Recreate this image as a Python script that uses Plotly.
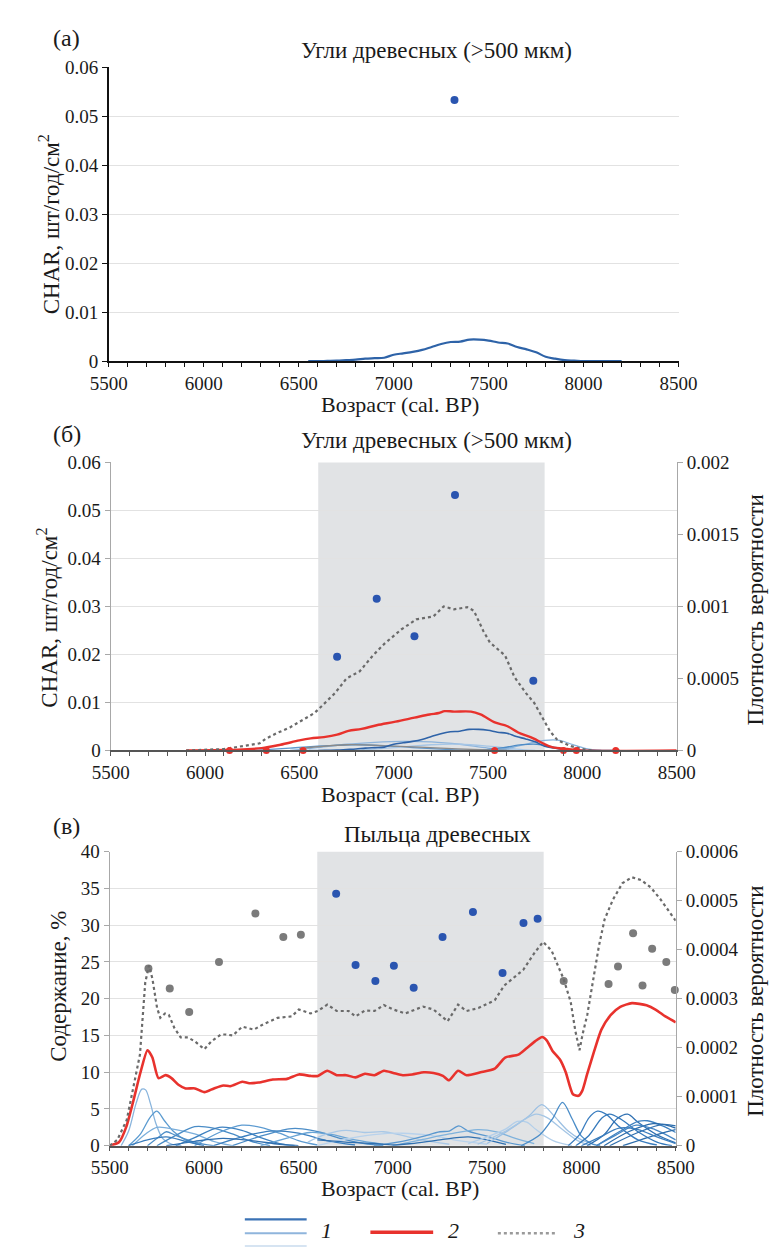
import plotly.graph_objects as go

FIG_W, FIG_H = 779, 1250

# ---------------- tick labels ----------------
AGE_TICKS = [5500, 6000, 6500, 7000, 7500, 8000, 8500]
AGE_TICK_TEXT = ["5500", "6000", "6500", "7000", "7500", "8000", "8500"]
CHAR_TICKS = [0, 0.01, 0.02, 0.03, 0.04, 0.05, 0.06]
CHAR_TICK_TEXT = ["0", "0.01", "0.02", "0.03", "0.04", "0.05", "0.06"]
PROB_B_TICKS = [0, 0.0005, 0.001, 0.0015, 0.002]
PROB_B_TICK_TEXT = ["0", "0.0005", "0.001", "0.0015", "0.002"]
PCT_TICKS = [0, 5, 10, 15, 20, 25, 30, 35, 40]
PCT_TICK_TEXT = ["0", "5", "10", "15", "20", "25", "30", "35", "40"]
PROB_C_TICKS = [0, 0.0001, 0.0002, 0.0003, 0.0004, 0.0005, 0.0006]
PROB_C_TICK_TEXT = ["0", "0.0001", "0.0002", "0.0003", "0.0004", "0.0005", "0.0006"]

# ---------------- panel (a) ----------------
A_CURVE_AGE = [6550, 6600, 6650, 6700, 6750, 6800, 6850, 6900, 6950, 7000, 7050, 7100,
               7150, 7200, 7250, 7300, 7350, 7400, 7450, 7500, 7550, 7600, 7650, 7700,
               7750, 7800, 7850, 7900, 7950, 8000, 8100, 8200]
A_CURVE_CHAR = [0, 0, 0.00005, 0.0001, 0.0002, 0.0003, 0.0005, 0.0006, 0.0007, 0.0013,
                0.0016, 0.0019, 0.0023, 0.0029, 0.0035, 0.0039, 0.0040, 0.0044, 0.0044,
                0.0042, 0.0038, 0.0036, 0.0029, 0.0024, 0.0018, 0.0009, 0.0005, 0.0002,
                0.0001, 0, 0, 0]
A_POINT_AGE = [7320]
A_POINT_CHAR = [0.0533]

# ---------------- panel (б) ----------------
B_CHAR_AGE = [6700, 6910, 7110, 7325, 7740]
B_CHAR_VAL = [0.0195, 0.0316, 0.0238, 0.0532, 0.0145]
B_ZERO_AGE = [6130, 6325, 6520, 7535, 7900, 7968, 8177]
B_ZERO_VAL = [0, 0, 0, 0, 0, 0, 0]

B_SUM_AGE = [5900, 6000, 6100, 6150, 6230, 6290, 6320, 6380, 6450, 6530, 6580, 6620,
             6690, 6750, 6820, 6890, 6950, 7040, 7120, 7210, 7265, 7320, 7390, 7425,
             7475, 7510, 7590, 7640, 7700, 7745, 7790, 7830, 7870, 7940, 8000, 8050]
B_SUM_PROB = [0, 0.000005, 0.00001, 0.00002, 0.00004, 0.00005, 0.00008, 0.00012,
              0.00016, 0.00022, 0.00026, 0.00031, 0.0004, 0.0005, 0.00055, 0.00066,
              0.00074, 0.00084, 0.00091, 0.00093, 0.001, 0.00098, 0.000995, 0.00097,
              0.00083, 0.00075, 0.00066, 0.00051, 0.0004, 0.00033, 0.00022, 0.00013,
              0.00007, 0.00003, 0.00001, 0]

B_RED_AGE = [5900, 6100, 6200, 6300, 6400, 6500, 6560, 6630, 6700, 6760, 6830, 6910,
             7010, 7110, 7190, 7240, 7270, 7320, 7410, 7460, 7540, 7600, 7660, 7740,
             7790, 7840, 7920, 7990, 8500]
B_RED_PROB = [0, 0.000003, 0.000008, 0.000016, 0.00004, 0.00007, 0.000084, 0.000093,
              0.00011, 0.000136, 0.00015, 0.000175, 0.0002, 0.000228, 0.00025, 0.00026,
              0.000273, 0.00027, 0.00027, 0.00025, 0.000193, 0.00017, 0.000125,
              0.000084, 0.00005, 0.000023, 0.00001, 0, 0]

B_CURVES = [
    [(6450, 0), (6600, 0.0006), (6750, 0.0013), (6900, 0.0017), (7050, 0.0019),
     (7200, 0.0018), (7350, 0.0013), (7500, 0.0005), (7650, 0)],
    [(6250, 0), (6450, 0.0005), (6650, 0.0010), (6800, 0.0012), (6950, 0.0010),
     (7100, 0.0006), (7300, 0.0002), (7450, 0)],
    [(6800, 0), (7000, 0.0006), (7200, 0.0012), (7350, 0.0013), (7500, 0.0009),
     (7650, 0.0003), (7750, 0)],
    [(7500, 0), (7620, 0.0006), (7720, 0.0015), (7800, 0.0021), (7880, 0.0021),
     (7950, 0.0012), (8020, 0.0004), (8100, 0)],
    [(7450, 0), (7580, 0.0006), (7680, 0.0012), (7760, 0.0013), (7850, 0.0007),
     (7950, 0.0001), (8000, 0)],
    [(6500, 0.0004), (6750, 0.0012), (7000, 0.0009), (7250, 0.0005), (7500, 0.0001),
     (7600, 0)],
]
B_CURVE_COLORS = ["#8db4dc", "#5f97cc", "#a6c6e6", "#86b2dc", "#4f8cc6", "#8a8a8a"]

# ---------------- panel (в) ----------------
C_GRAY_AGE = [5705, 5818, 5921, 6079, 6272, 6420, 6513, 7906, 8144, 8194, 8274, 8324,
              8375, 8450, 8495]
C_GRAY_PCT = [24.1, 21.4, 18.2, 25.0, 31.6, 28.4, 28.7, 22.4, 22.0, 24.4, 28.9, 21.8,
              26.8, 25.0, 21.2]
C_BLUE_AGE = [6700, 6803, 6908, 7006, 7111, 7264, 7425, 7582, 7693, 7768]
C_BLUE_PCT = [34.3, 24.6, 22.4, 24.5, 21.5, 28.4, 31.8, 23.5, 30.3, 30.9]

C_SUM_AGE = [5500, 5540, 5590, 5625, 5660, 5688, 5708, 5726, 5751, 5768, 5793, 5813,
             5843, 5876, 5914, 5951, 6001, 6039, 6089, 6114, 6152, 6202, 6264, 6314,
             6389, 6465, 6502, 6565, 6603, 6653, 6703, 6766, 6803, 6853, 6903, 6953,
             7003, 7066, 7104, 7161, 7216, 7291, 7346, 7391, 7454, 7541, 7591, 7692,
             7754, 7797, 7842, 7905, 7943, 7968, 7990, 8006, 8031, 8056, 8093, 8123,
             8168, 8218, 8268, 8318, 8368, 8419, 8469, 8500]
C_SUM_PROB = [0, 0.000012, 0.0000525, 0.000119, 0.000186, 0.000333, 0.000368, 0.000341,
              0.000281, 0.000261, 0.00027, 0.000267, 0.00024, 0.000221, 0.000221,
              0.000213, 0.000197, 0.000213, 0.000227, 0.000227, 0.000225, 0.000243,
              0.000237, 0.000248, 0.000261, 0.000264, 0.000278, 0.00027, 0.000275,
              0.000288, 0.000275, 0.000275, 0.000264, 0.000276, 0.000275, 0.000287,
              0.000278, 0.00027, 0.000275, 0.000284, 0.000278, 0.000254, 0.000288,
              0.000275, 0.000281, 0.000297, 0.000327, 0.000359, 0.000395, 0.000416,
              0.000398, 0.000341, 0.000294, 0.000234, 0.000195, 0.000227, 0.000267,
              0.000321, 0.000408, 0.000462, 0.000503, 0.000536, 0.000548, 0.000542,
              0.000527, 0.000503, 0.000476, 0.000459]

C_RED_AGE = [5500, 5550, 5588, 5625, 5663, 5700, 5726, 5758, 5796, 5827, 5864, 5902,
             5952, 6002, 6052, 6102, 6139, 6202, 6239, 6289, 6364, 6440, 6502, 6565,
             6603, 6653, 6703, 6753, 6803, 6853, 6903, 6953, 7003, 7053, 7103, 7165,
             7216, 7266, 7298, 7346, 7391, 7466, 7541, 7596, 7666, 7711, 7754, 7792,
             7817, 7847, 7887, 7917, 7955, 7985, 8005, 8030, 8068, 8106, 8156, 8206,
             8268, 8345, 8395, 8445, 8500]
C_RED_PROB = [0, 0.0000075, 0.000039, 0.0000915, 0.00015, 0.000195, 0.00018, 0.000138,
              0.000144, 0.000138, 0.0001245, 0.000117, 0.000117, 0.0001095, 0.000117,
              0.000123, 0.0001215, 0.0001305, 0.0001275, 0.000129, 0.000135, 0.0001365,
              0.0001455, 0.0001425, 0.0001425, 0.000153, 0.000144, 0.000144, 0.0001395,
              0.000147, 0.000144, 0.000153, 0.0001485, 0.000144, 0.0001455, 0.00015,
              0.0001485, 0.0001425, 0.0001335, 0.000153, 0.000144, 0.00015, 0.0001575,
              0.00018, 0.000186, 0.0001995, 0.000213, 0.000222, 0.0002145, 0.0001935,
              0.0001755, 0.00015, 0.000105, 0.000102, 0.0001125, 0.0001455, 0.0001935,
              0.000237, 0.000267, 0.0002835, 0.000291, 0.0002865, 0.0002775, 0.000264,
              0.000252]

# individual pollen-sample curves (age, %)
C_CURVES_EARLY = [
    [(5560, 0), (5600, 2.0), (5640, 5.8), (5670, 7.7), (5690, 7.6), (5715, 5.8),
     (5745, 3.0), (5780, 1.0), (5830, 0.2), (5880, 0)],
    [(5600, 0), (5660, 1.5), (5715, 3.9), (5750, 4.7), (5790, 3.4), (5840, 1.9),
     (5900, 0.8), (5980, 0.1)],
    [(5620, 0), (5690, 1.6), (5750, 2.5), (5850, 2.2), (5950, 1.6), (6050, 0.6), (6150, 0)],
    [(5700, 0), (5770, 1.4), (5800, 1.9), (5850, 1.4), (5950, 0.5), (6050, 0)],
    [(5750, 0), (5850, 1.4), (5950, 2.6), (6050, 2.4), (6150, 1.6), (6250, 0.6), (6350, 0)],
    [(5850, 0), (5950, 1.1), (6080, 2.5), (6200, 2.1), (6300, 1.1), (6400, 0.3), (6480, 0)],
    [(5950, 0), (6080, 1.8), (6200, 2.8), (6300, 2.5), (6400, 1.7), (6500, 0.7), (6600, 0.1)],
    [(6050, 0), (6200, 1.2), (6350, 2.0), (6500, 1.7), (6650, 0.7), (6800, 0.1)],
    [(6150, 0), (6300, 1.3), (6450, 2.3), (6520, 2.3), (6620, 1.8), (6720, 1.0),
     (6850, 0.3), (6950, 0)],
    [(6300, 0), (6450, 1.1), (6560, 1.8), (6660, 1.6), (6800, 0.8), (6950, 0.2)],
    [(5800, 0), (5950, 0.6), (6100, 1.0), (6250, 0.7), (6400, 0.2), (6500, 0)],
    [(5600, 0), (5700, 0.8), (5800, 1.2), (5900, 0.6), (6000, 0)],
]
C_COLORS_EARLY = ["#8ab5dd", "#5b9bd0", "#7aaedb", "#4f8fc8", "#4a8cc6", "#3f82c0",
                  "#5d9bd1", "#3b7fbf", "#4c8dc7", "#6aa5d6", "#2f6fb0", "#3a7cbc"]

C_CURVES_MIDDLE = [
    [(6550, 0.5), (6650, 1.6), (6750, 2.1), (6850, 1.8), (6950, 1.9), (7050, 1.4),
     (7150, 0.8), (7300, 0.2)],
    [(6600, 0), (6750, 0.9), (6900, 1.5), (7050, 1.7), (7200, 1.4), (7350, 0.7), (7500, 0.2)],
    [(6900, 0), (7050, 0.6), (7150, 1.2), (7250, 1.9), (7300, 2.0), (7350, 2.7),
     (7400, 2.0), (7500, 1.3), (7600, 0.5), (7700, 0)],
    [(7000, 0), (7150, 0.8), (7300, 1.6), (7450, 2.2), (7550, 1.9), (7650, 1.0), (7750, 0.3)],
    [(6600, 0.8), (6750, 0.5), (6900, 0.3), (7000, 0.1), (7100, 0.3), (7250, 0.8),
     (7400, 1.2), (7500, 0.8), (7600, 0.2)],
]
C_COLORS_MIDDLE = ["#a9c8e6", "#b8d2ec", "#5a98cf", "#7fb2dc", "#3070b0"]

C_CURVES_LATE = [
    [(7400, 0.3), (7500, 1.2), (7600, 2.3), (7660, 3.3), (7710, 3.2), (7760, 2.2),
     (7850, 0.7), (7950, 0)],
    [(7500, 0.3), (7620, 2.2), (7720, 4.0), (7790, 5.6), (7850, 4.2), (7930, 2.0),
     (8000, 0.8), (8080, 0.1)],
    [(7450, 0.2), (7600, 2.0), (7700, 3.6), (7760, 4.3), (7820, 3.8), (7900, 2.2),
     (7980, 0.7), (8050, 0)],
    [(7680, 0), (7780, 1.5), (7850, 3.8), (7900, 5.9), (7950, 3.7), (8000, 1.3),
     (8060, 0.2), (8100, 0)],
    [(7930, 0), (7990, 1.5), (8040, 3.8), (8085, 4.7), (8130, 4.3), (8200, 2.6),
     (8300, 0.8), (8400, 0.1)],
    [(7970, 0), (8040, 1.4), (8110, 3.8), (8150, 4.3), (8210, 3.6), (8300, 1.9),
     (8400, 0.5), (8480, 0)],
    [(8030, 0), (8120, 1.5), (8190, 3.7), (8245, 4.3), (8300, 3.2), (8400, 1.5), (8500, 0.4)],
    [(8080, 0), (8200, 1.9), (8300, 3.3), (8350, 3.4), (8430, 2.7), (8500, 1.8)],
    [(8120, 0), (8250, 1.9), (8380, 3.0), (8450, 2.8), (8500, 2.4)],
    [(8150, 0), (8300, 1.8), (8430, 2.9), (8500, 2.7)],
    [(8080, 0), (8180, 1.4), (8290, 2.8), (8390, 2.2), (8500, 0.8)],
    [(8220, 0), (8350, 1.1), (8450, 1.9), (8500, 2.2)],
    [(8000, 0), (8100, 1.2), (8200, 2.4), (8300, 2.2), (8400, 1.2), (8500, 0.3)],
]
C_COLORS_LATE = ["#b3cfea", "#9cc0e3", "#a5c6e5", "#4b8dc8", "#3a7dbf", "#3579bb",
                 "#2f70b2", "#3d80c0", "#2a6aa9", "#2f6fae", "#4686c4", "#2d6dac", "#3c7ebe"]

SHADE_AGE = (6600, 7800)

# ---------------- styling ----------------
FONT = "Liberation Serif, Times New Roman, DejaVu Serif, serif"
TXT = "#1a1a1a"
TICK_SIZE = 19
BLUE_DOT = "#2a55b0"
GRAY_DOT = "#7b7b7b"
RED = "#e8322d"
DOT_LINE = "#6a6a6a"
GRID = "#e2e2e2"
SHADE = "#e1e3e5"


def py(p):  # pixel row -> paper y
    return 1 - p / FIG_H


def px(p):  # pixel col -> paper x
    return p / FIG_W


fig = go.Figure()

# (a)
fig.add_trace(go.Scatter(x=A_CURVE_AGE, y=A_CURVE_CHAR, mode="lines", line=dict(color="#2e63a8", width=2.2, shape="spline"),
                         xaxis="x", yaxis="y", showlegend=False))
fig.add_trace(go.Scatter(x=A_POINT_AGE, y=A_POINT_CHAR, mode="markers", marker=dict(color=BLUE_DOT, size=8),
                         xaxis="x", yaxis="y", showlegend=False))

# (б)
for pts, col in zip(B_CURVES, B_CURVE_COLORS):
    fig.add_trace(go.Scatter(x=[p[0] for p in pts], y=[p[1] for p in pts], mode="lines",
                             line=dict(color=col, width=1.3, shape="spline"),
                             xaxis="x2", yaxis="y2", showlegend=False))
fig.add_trace(go.Scatter(x=A_CURVE_AGE, y=A_CURVE_CHAR, mode="lines", line=dict(color="#2e63a8", width=1.6, shape="spline"),
                         xaxis="x2", yaxis="y2", showlegend=False))
fig.add_trace(go.Scatter(x=B_RED_AGE, y=B_RED_PROB, mode="lines", line=dict(color=RED, width=2.4, shape="spline"),
                         xaxis="x2", yaxis="y3", showlegend=False))
fig.add_trace(go.Scatter(x=B_SUM_AGE, y=B_SUM_PROB, mode="lines", line=dict(color=DOT_LINE, width=2.2, dash="dot"),
                         xaxis="x2", yaxis="y3", showlegend=False))
fig.add_trace(go.Scatter(x=B_ZERO_AGE, y=B_ZERO_VAL, mode="markers", marker=dict(color=RED, size=7),
                         xaxis="x2", yaxis="y3", showlegend=False, cliponaxis=False))
fig.add_trace(go.Scatter(x=B_CHAR_AGE, y=B_CHAR_VAL, mode="markers", marker=dict(color=BLUE_DOT, size=8),
                         xaxis="x2", yaxis="y2", showlegend=False))

# (в)
for group, cols in ((C_CURVES_EARLY, C_COLORS_EARLY), (C_CURVES_MIDDLE, C_COLORS_MIDDLE),
                    (C_CURVES_LATE, C_COLORS_LATE)):
    for pts, col in zip(group, cols):
        fig.add_trace(go.Scatter(x=[p[0] for p in pts], y=[p[1] for p in pts], mode="lines",
                                 line=dict(color=col, width=1.3, shape="spline", smoothing=0.9),
                                 xaxis="x3", yaxis="y4", showlegend=False))
fig.add_trace(go.Scatter(x=C_RED_AGE, y=C_RED_PROB, mode="lines", line=dict(color=RED, width=2.6, shape="spline", smoothing=0.6),
                         xaxis="x3", yaxis="y5", showlegend=False))
fig.add_trace(go.Scatter(x=C_SUM_AGE, y=C_SUM_PROB, mode="lines", line=dict(color=DOT_LINE, width=2.2, dash="dot"),
                         xaxis="x3", yaxis="y5", showlegend=False))
fig.add_trace(go.Scatter(x=C_GRAY_AGE, y=C_GRAY_PCT, mode="markers", marker=dict(color=GRAY_DOT, size=8),
                         xaxis="x3", yaxis="y4", showlegend=False, cliponaxis=False))
fig.add_trace(go.Scatter(x=C_BLUE_AGE, y=C_BLUE_PCT, mode="markers", marker=dict(color=BLUE_DOT, size=8),
                         xaxis="x3", yaxis="y4", showlegend=False))

tickfont = dict(family=FONT, size=TICK_SIZE, color=TXT)


def xaxis_cfg(domain, anchor, linecolor):
    return dict(domain=domain, anchor=anchor, range=[5500, 8500], tickvals=AGE_TICKS, ticktext=AGE_TICK_TEXT,
                showline=True, linecolor=linecolor, linewidth=1.5, ticks="outside", ticklen=4,
                tickcolor=linecolor, tickfont=tickfont, showgrid=False, zeroline=False,
                minor=dict(dtick=100, tick0=5500, ticks="outside", ticklen=4, tickcolor=linecolor, showgrid=False))


def yaxis_left(domain, anchor, rng, tv, tt, linecolor, lw):
    return dict(domain=domain, anchor=anchor, range=rng, tickvals=tv, ticktext=tt, showline=True,
                linecolor=linecolor, linewidth=lw, ticks="outside", ticklen=5, tickcolor=linecolor,
                tickfont=tickfont, showgrid=True, gridcolor=GRID, gridwidth=1, zeroline=False)


def yaxis_right(overlay, anchor, rng, tv, tt):
    return dict(overlaying=overlay, anchor=anchor, side="right", range=rng, tickvals=tv, ticktext=tt,
                showline=True, linecolor="#a8a8a8", linewidth=1.3, ticks="outside", ticklen=5,
                tickcolor="#a8a8a8", tickfont=tickfont, showgrid=False, zeroline=False)


dom_a = [py(349), py(50)]
dom_b = [py(745), py(452)]
dom_c = [py(1147), py(848)]

fig.update_layout(
    width=FIG_W, height=FIG_H, margin=dict(l=0, r=0, t=0, b=0),
    paper_bgcolor="white", plot_bgcolor="rgba(0,0,0,0)",
    font=dict(family=FONT, color=TXT),
    xaxis=xaxis_cfg([px(86), px(685)], "y", "#111111"),
    yaxis=yaxis_left(dom_a, "x", [0, 0.06], CHAR_TICKS, CHAR_TICK_TEXT, "#111111", 1.6),
    xaxis2=xaxis_cfg([px(88), px(683)], "y2", "#555555"),
    yaxis2=yaxis_left(dom_b, "x2", [0, 0.06], CHAR_TICKS, CHAR_TICK_TEXT, "#a8a8a8", 1.3),
    yaxis3=yaxis_right("y2", "x2", [0, 0.002], PROB_B_TICKS, PROB_B_TICK_TEXT),
    xaxis3=xaxis_cfg([px(87), px(682)], "y4", "#555555"),
    yaxis4=yaxis_left(dom_c, "x3", [0, 40], PCT_TICKS, PCT_TICK_TEXT, "#a8a8a8", 1.3),
    yaxis5=yaxis_right("y4", "x3", [0, 0.0006], PROB_C_TICKS, PROB_C_TICK_TEXT),
)

shapes = [
    dict(type="rect", xref="x2", yref="y2 domain", x0=SHADE_AGE[0], x1=SHADE_AGE[1], y0=0, y1=1,
         fillcolor=SHADE, line=dict(width=0), layer="below"),
    dict(type="rect", xref="x3", yref="y4 domain", x0=SHADE_AGE[0], x1=SHADE_AGE[1], y0=0, y1=1,
         fillcolor=SHADE, line=dict(width=0), layer="below"),
    # legend samples
    dict(type="line", xref="paper", yref="paper", x0=px(229), x1=px(294), y0=py(1222), y1=py(1222),
         line=dict(color="#3a72b5", width=2.2)),
    dict(type="line", xref="paper", yref="paper", x0=px(229), x1=px(294), y0=py(1236), y1=py(1236),
         line=dict(color="#8fb5dc", width=2.2)),
    dict(type="line", xref="paper", yref="paper", x0=px(229), x1=px(294), y0=py(1249), y1=py(1249),
         line=dict(color="#c9dbee", width=1.5)),
    dict(type="line", xref="paper", yref="paper", x0=px(361), x1=px(427), y0=py(1235), y1=py(1235),
         line=dict(color=RED, width=3.5)),
    dict(type="line", xref="paper", yref="paper", x0=px(495), x1=px(558), y0=py(1236), y1=py(1236),
         line=dict(color="#9a9a9a", width=2.5, dash="dot")),
]
fig.update_layout(shapes=shapes)


def ann(text, x, y, size, angle=0, italic=False):
    t = f"<i>{text}</i>" if italic else text
    return dict(text=t, x=px(x), y=py(y), xref="paper", yref="paper", showarrow=False,
                xanchor="center", yanchor="middle", textangle=angle,
                font=dict(family=FONT, size=size, color=TXT))


annotations = [
    ann("(а)", 42, 20, 24),
    ann("Угли древесных (&gt;500 мкм)", 430, 33, 23),
    ann("CHAR, шт/год/см<sup>2</sup>", 24, 210, 23, -90),
    ann("Возраст (cal. BP)", 392, 393, 22),
    ann("(б)", 42, 423, 24),
    ann("Угли древесных (&gt;500 мкм)", 430, 430, 23),
    ann("CHAR, шт/год/см<sup>2</sup>", 22, 610, 23, -90),
    ann("Плотность вероятности", 766, 602, 23, -90),
    ann("Возраст (cal. BP)", 392, 790, 22),
    ann("(в)", 42, 822, 24),
    ann("Пыльца древесных", 432, 830, 23),
    ann("Содержание, %", 33, 985, 23, -90),
    ann("Плотность вероятности", 766, 1000, 23, -90),
    ann("Возраст (cal. BP)", 392, 1191, 22),
    ann("1", 315, 1233, 22, italic=True),
    ann("2", 448, 1233, 22, italic=True),
    ann("3", 580, 1233, 22, italic=True),
]
fig.update_layout(annotations=annotations)

fig.write_html("out.html")
